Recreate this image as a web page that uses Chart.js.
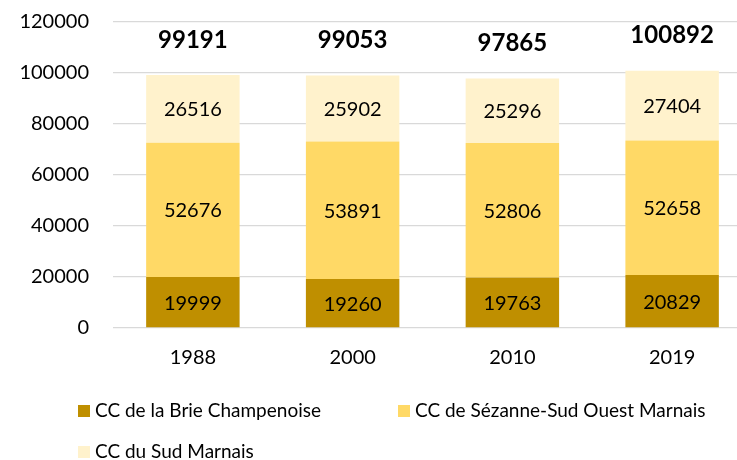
<!DOCTYPE html>
<html>
<head>
<meta charset="utf-8">
<script src="https://cdn.jsdelivr.net/npm/chart.js@4/dist/chart.umd.min.js"></script>
<style>
html,body{margin:0;padding:0;background:#fff;overflow:hidden;}
#wrap{width:737px;height:460px;overflow:hidden;position:relative;}
#box{width:752px;height:460px;position:absolute;left:0;top:0;}
</style>
</head>
<body>
<div id="wrap"><div id="box"><canvas id="c"></canvas></div></div>
<script>
const categories = ["1988", "2000", "2010", "2019"];
const seriesNames = ["CC de la Brie Champenoise", "CC de Sézanne-Sud Ouest Marnais", "CC du Sud Marnais"];
const brie = [19999, 19260, 19763, 20829];
const sezanne = [52676, 53891, 52806, 52658];
const sudMarnais = [26516, 25902, 25296, 27404];
const totals = [99191, 99053, 97865, 100892];
const yTicks = [0, 20000, 40000, 60000, 80000, 100000, 120000];

const colors = ["#BF8F00", "#FFD966", "#FFF2CC"];
const FONT = "Lato, 'Open Sans', sans-serif";

const labelPlugin = {
  id: 'labels',
  afterDatasetsDraw(chart) {
    const ctx = chart.ctx;
    ctx.save();
    ctx.textAlign = 'center';
    ctx.textBaseline = 'middle';
    ctx.fillStyle = '#000';
    ctx.font = "20px " + FONT;
    chart.data.datasets.forEach((ds, i) => {
      const meta = chart.getDatasetMeta(i);
      meta.data.forEach((el, j) => {
        const y = (el.y + el.base) / 2;
        ctx.fillText(String(ds.data[j]), el.x, y + 1);
      });
    });
    const last = chart.getDatasetMeta(chart.data.datasets.length - 1);
    ctx.font = "bold 24px " + FONT;
    last.data.forEach((el, j) => {
      ctx.fillText(String(totals[j]), el.x, el.y - 35);
    });
    ctx.restore();
  },
  afterDraw(chart) {
    const ctx = chart.ctx;
    ctx.save();
    ctx.font = "19px " + FONT;
    ctx.textBaseline = 'middle';
    ctx.textAlign = 'left';
    const pos = [[78, 411], [398, 411], [78, 452]];
    chart.data.datasets.forEach((ds, i) => {
      const [x, y] = pos[i];
      ctx.fillStyle = ds.backgroundColor;
      ctx.fillRect(x, y - 6, 12, 12);
      ctx.fillStyle = '#000';
      ctx.fillText(ds.label, x + 17, y);
    });
    ctx.restore();
  }
};

new Chart(document.getElementById('c'), {
  type: 'bar',
  data: {
    labels: categories,
    datasets: [
      { label: seriesNames[0], data: brie, backgroundColor: colors[0] },
      { label: seriesNames[1], data: sezanne, backgroundColor: colors[1] },
      { label: seriesNames[2], data: sudMarnais, backgroundColor: colors[2] }
    ]
  },
  options: {
    responsive: true,
    maintainAspectRatio: false,
    animation: false,
    datasets: { bar: { categoryPercentage: 1, barPercentage: 0.585 } },
    layout: { padding: { top: 22, left: 0, right: 0, bottom: 0 } },
    plugins: { legend: { display: false }, tooltip: { enabled: false } },
    scales: {
      x: {
        stacked: true,
        grid: { display: false, drawTicks: false },
        border: { display: false },
        ticks: { color: '#000', font: { family: FONT, size: 20 }, padding: 18 },
        afterFit(s) { s.height = 132; s.paddingLeft = 0; s.paddingRight = 0; }
      },
      y: {
        stacked: true,
        min: 0, max: 120000,
        afterBuildTicks(s) { s.ticks = yTicks.map(v => ({ value: v })); },
        grid: { color: '#D9D9D9', lineWidth: 1.3, drawTicks: false },
        border: { display: false },
        ticks: { color: '#000', font: { family: FONT, size: 20 }, padding: 24, callback: v => String(v) },
        afterFit(s) { s.width = 113; s.paddingTop = 0; s.paddingBottom = 0; }
      }
    }
  },
  plugins: [labelPlugin]
});
</script>
</body>
</html>
